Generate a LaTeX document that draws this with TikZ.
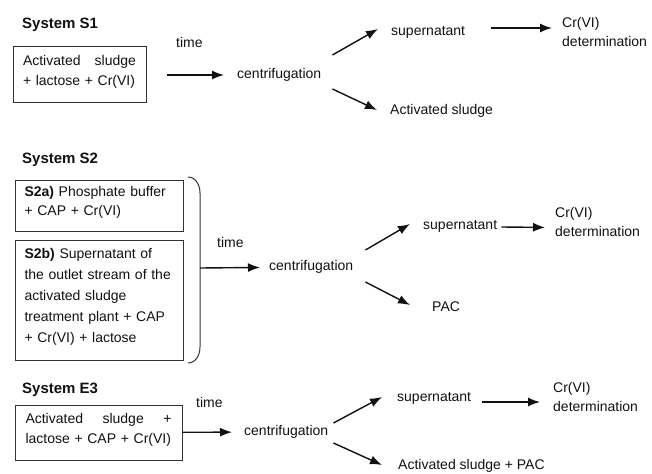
\documentclass[tikz,border=0pt]{standalone}
\usepackage{fontspec}
\setmainfont{Liberation Sans}
\usepackage{tikz}
\usetikzlibrary{shapes, arrows.meta, calc}
\definecolor{ink}{HTML}{111111}
\definecolor{frame}{HTML}{333333}
\tikzstyle{inbox} = [rectangle, draw=frame, line width=1pt, align=left, text=ink, font=\fontsize{14}{20}\selectfont]
\tikzstyle{lbl} = [anchor=west, inner sep=0pt, align=left, text=ink, font=\fontsize{14}{19}\selectfont]
\tikzstyle{title} = [lbl, font=\fontsize{15}{19}\selectfont\bfseries]
\tikzstyle{brace} = [draw=frame, line width=1pt]
\tikzstyle{connector} = [draw, -{Latex[length=12pt, width=9pt]}, line width=1.4pt, ink]
\newcommand{\boxend}{\rule[-9pt]{0pt}{0pt}}

\begin{document}
\begin{tikzpicture}[x=1pt, y=-1pt]
\useasboundingbox (0,0) rectangle (652,473);

% System S1
\node [title] at (22,25) (sys1) {System S1};
\node [inbox, text width=113pt, inner xsep=10pt, minimum height=56pt] at (79.5,75) (box1) {Activated\hfill sludge\\+ lactose + Cr(VI)\boxend};
\node [lbl] at (176,42) (time1) {time};
\node [lbl] at (237,75) (cent1) {centrifugation};
\node [lbl] at (391,32) (sup1) {supernatant};
\node [lbl] at (562,32) (det1) {Cr(VI)\\determination};
\node [lbl] at (390,111) (sludge1) {Activated sludge};

\path [connector, shorten <=20pt, shorten >=13pt] (box1) -- (cent1);
\path [connector] ($(cent1.east)+(11,-20)$) -- ($(sup1.west)+(-13,-3)$);
\path [connector] ($(cent1.east)+(11,14)$) -- ($(sludge1.west)+(-13,-1)$);
\path [connector] ($(sup1.east)+(26,-4)$) -- ($(det1.west)+(-10,-4)$);

% System S2
\node [title] at (22,160) (sys2) {System S2};
\node [inbox, text width=149pt, inner xsep=9.5pt, minimum height=51pt, font=\fontsize{14}{19}\selectfont] at (99,205.5) (box2a) {\textbf{S2a)} Phosphate buffer\\+ CAP + Cr(VI)\boxend};
\node [inbox, text width=149pt, inner xsep=9.5pt, minimum height=120pt, font=\fontsize{14}{21}\selectfont] at (99,300) (box2b) {\textbf{S2b)} Supernatant of\\the outlet stream of the\\activated sludge\\treatment plant + CAP\\+ Cr(VI) + lactose\boxend};
\draw [brace] (188,177) to[out=0,in=90] (200,193) -- (200,347) to[out=-90,in=0] (188,363);
\coordinate (brk) at (200,268);
\node [lbl] at (217,242) (time2) {time};
\node [lbl] at (269,267) (cent2) {centrifugation};
\node [lbl] at (423,226) (sup2) {supernatant};
\node [lbl] at (555,222.4) (det2) {Cr(VI)\\determination};
\node [lbl] at (432,307) (pac2) {PAC};

\path [connector, shorten >=9pt] (brk) -- (cent2);
\path [connector] ($(cent2.east)+(12,-17)$) -- ($(sup2.west)+(-13,-2)$);
\path [connector] ($(cent2.east)+(12,15)$) -- ($(pac2.west)+(-22,-2)$);
\path [connector] ($(sup2.east)+(4,1)$) -- ($(det2.west)+(-10,5)$);

% System E3
\node [title] at (22,390) (sys3) {System E3};
\node [inbox, text width=146pt, inner xsep=10.5pt, minimum height=55pt] at (98.5,432.5) (box3) {Activated\hfill sludge\hfill +\\lactose + CAP + Cr(VI)\boxend};
\node [lbl] at (196,402) (time3) {time};
\node [lbl] at (244,432) (cent3) {centrifugation};
\node [lbl] at (397,398) (sup3) {supernatant};
\node [lbl] at (553,397.4) (det3) {Cr(VI)\\determination};
\node [lbl] at (398,466) (sludge3) {Activated sludge + PAC};

\path [connector, shorten >=12pt] (box3) -- (cent3);
\path [connector] ($(cent3.east)+(5,-9)$) -- ($(sup3.west)+(-15,-1)$);
\path [connector] ($(cent3.east)+(5,11)$) -- ($(sludge3.west)+(-16,-1)$);
\path [connector] ($(sup3.east)+(11,4)$) -- ($(det3.west)+(-13,4.6)$);

\end{tikzpicture}
\end{document}
